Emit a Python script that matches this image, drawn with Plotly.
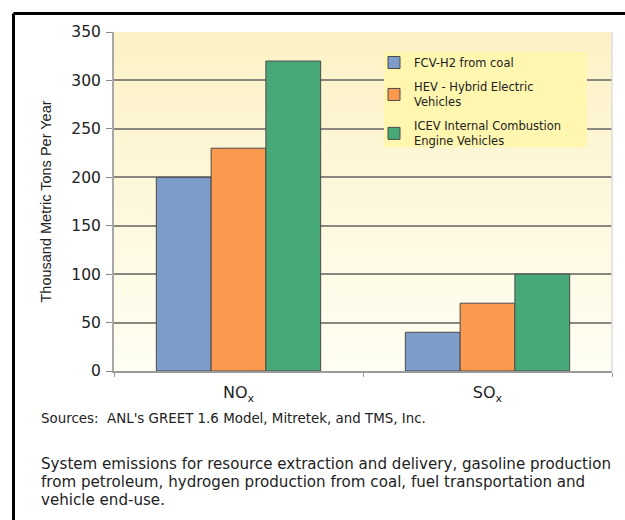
import plotly.graph_objects as go

categories = ["NO<sub>x</sub>", "SO<sub>x</sub>"]
series_names = [
    "FCV-H2 from coal",
    "HEV - Hybrid Electric<br>Vehicles",
    "ICEV Internal Combustion<br>Engine Vehicles",
]
fcv_values = [200, 40]
hev_values = [230, 70]
icev_values = [320, 100]
y_ticks = [0, 50, 100, 150, 200, 250, 300, 350]

colors = ["#7E9CC8", "#FB9A4F", "#48A978"]

W, H = 625, 520
L, R, T, B = 114, 13, 32, 149

fig = go.Figure()
for i, (name, vals, col) in enumerate(zip(series_names, [fcv_values, hev_values, icev_values], colors)):
    fig.add_trace(go.Bar(
        x=categories, y=vals, name=name, legendgroup="g%d" % i,
        marker=dict(color=col, line=dict(color="#4a4a4a", width=1)),
    ))

pw = W - L - R
ph = H - T - B
def px(x):
    return (x - L) / pw
def py(y):
    return (H - B - y) / ph

# vertical gradient background (plot area)
shapes = []
n = 40
top = (253, 242, 198)
bot = (254, 254, 243)
for i in range(n):
    f = i / (n - 1)
    c = tuple(round(top[k] + (bot[k] - top[k]) * f) for k in range(3))
    shapes.append(dict(
        type="rect", xref="paper", yref="paper", layer="below",
        x0=0, x1=1, y0=1 - (i + 1) / n, y1=1 - i / n,
        fillcolor="rgb(%d,%d,%d)" % c, line=dict(width=0),
    ))

# legend box
shapes.append(dict(type="rect", xref="paper", yref="paper", layer="above",
                   x0=px(384), x1=px(587), y0=py(147), y1=py(52),
                   fillcolor="#FFF6B0", line=dict(width=0)))

# black frame
shapes.append(dict(type="line", xref="paper", yref="paper",
                   x0=px(13.5), x1=px(640), y0=py(13.5), y1=py(13.5),
                   line=dict(color="black", width=3)))
shapes.append(dict(type="line", xref="paper", yref="paper",
                   x0=px(13.5), x1=px(13.5), y0=py(13.5), y1=py(540),
                   line=dict(color="black", width=3)))
# light right border of plot area
shapes.append(dict(type="line", xref="paper", yref="paper", x0=1, x1=1, y0=0, y1=1,
                   line=dict(color="#dcdcdc", width=1.5)))

note_font = "DejaVu Sans, Verdana, sans-serif"
notes = [
    ("Sources:  ANL's GREET 1.6 Model, Mitretek, and TMS, Inc.", 418, 13.4),
    ("System emissions for resource extraction and delivery, gasoline production", 464, 15.1),
    ("from petroleum, hydrogen production from coal, fuel transportation and", 482, 15.1),
    ("vehicle end-use.", 500, 15.1),
]
annotations = []
for text, yy, sz in notes:
    annotations.append(dict(text=text, xref="paper", yref="paper",
                            x=px(40), y=py(yy), xanchor="left", yanchor="middle",
                            showarrow=False, align="left", borderpad=0,
                            font=dict(family=note_font, size=sz, color="#222")))

fig.update_layout(
    width=W, height=H,
    margin=dict(l=L, r=R, t=T, b=B, pad=0),
    paper_bgcolor="white",
    plot_bgcolor="#FEFAE0",
    barmode="group",
    bargap=0.34,
    bargroupgap=0,
    font=dict(family="DejaVu Sans, sans-serif", color="#222"),
    shapes=shapes,
    annotations=annotations,
    legend=dict(
        x=px(374), y=py(48), xanchor="left", yanchor="top",
        bgcolor="rgba(0,0,0,0)", borderwidth=0,
        font=dict(size=11.5, color="#222", family="DejaVu Sans, sans-serif"),
        traceorder="grouped",
        tracegroupgap=6,
        itemwidth=30,
    ),
    showlegend=True,
    xaxis=dict(
        showline=True, linecolor="#9a9a9a", linewidth=2,
        ticks="outside", tickson="boundaries", ticklen=4, tickcolor="#9a9a9a",
        tickfont=dict(size=16, color="#222"),
        ticklabelstandoff=6,
    ),
    yaxis=dict(
        range=[0, 350], tickvals=y_ticks,
        showgrid=True, gridcolor="#8a887e", gridwidth=1.6,
        showline=True, linecolor="#a8a8a8", linewidth=2,
        ticks="outside", ticklen=6, tickcolor="#8a8a8a",
        tickfont=dict(size=15.5, color="#222"),
        ticklabelstandoff=2,
        title=dict(text="Thousand Metric Tons Per Year",
                   font=dict(family="Liberation Sans Narrow, Arial Narrow, sans-serif", size=14.5, color="#222"),
                   standoff=16),
        zeroline=False,
    ),
)

fig.write_html("out.html", post_script="document.body.style.margin='0';",
               config={"displayModeBar": False})
